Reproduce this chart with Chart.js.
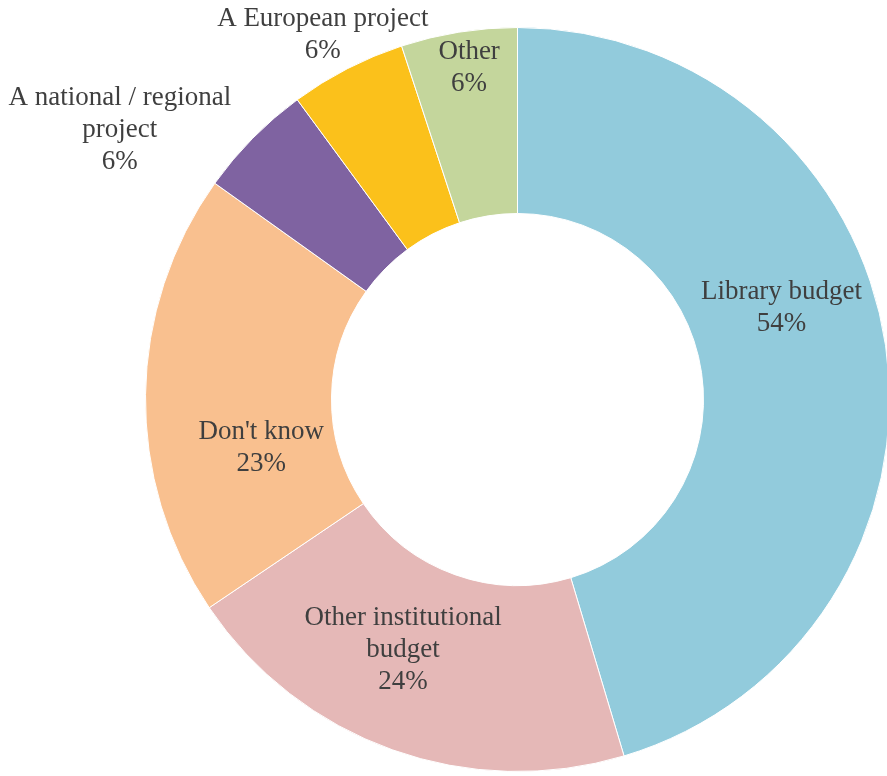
<!DOCTYPE html>
<html>
<head>
<meta charset="utf-8">
<script src="https://cdn.jsdelivr.net/npm/chart.js@4.4.1/dist/chart.umd.min.js"></script>
<style>
  html, body { margin: 0; padding: 0; background: #ffffff; overflow: hidden; }
  #wrap { position: relative; width: 900px; height: 776px; }
</style>
</head>
<body>
<div id="wrap"><canvas id="chart"></canvas></div>
<script>
  // Funding sources (multiple answers allowed, so shares add to more than 100)
  const categories = ['Library budget', 'Other institutional budget', "Don't know",
    'A national / regional project', 'A European project', 'Other'];
  const shares = [54, 24, 23, 6, 6, 6];
  const sliceColors = ['#92cbdc', '#e5b8b7', '#f9c08f', '#7f63a1', '#fbc11b', '#c4d69c'];

  // How each label is broken into lines
  const labelLines = [
    ['Library budget'],
    ['Other institutional', 'budget'],
    ["Don't know"],
    ['A national / regional', 'project'],
    ['A European project'],
    ['Other']
  ];

  // Where each label sits: angle clockwise from top (deg), distance as a fraction of the outer radius
  const labelPlacement = [
    { angle: 70.9, r: 0.751 },
    { angle: 204.6, r: 0.739 },
    { angle: 259.3, r: 0.701 },
    { angle: 304.1, r: 1.291 },
    { angle: 331.9, r: 1.111 },
    { angle: 351.7, r: 0.901 }
  ];

  const sliceLabels = {
    id: 'sliceLabels',
    afterDatasetsDraw(chart) {
      const ctx = chart.ctx;
      const arc = chart.getDatasetMeta(0).data[0];
      if (!arc) return;
      const cx = arc.x, cy = arc.y, R = arc.outerRadius;
      const lineHeight = 32;
      ctx.save();
      ctx.font = '27px "Liberation Serif", "Times New Roman", serif';
      ctx.fillStyle = '#3f3f3f';
      ctx.textAlign = 'center';
      ctx.textBaseline = 'middle';
      labelLines.forEach(function (lines, i) {
        const all = lines.concat([shares[i] + '%']);
        const p = labelPlacement[i];
        const a = p.angle * Math.PI / 180;
        const x = cx + Math.sin(a) * p.r * R;
        const y = cy - Math.cos(a) * p.r * R;
        const top = y - (all.length - 1) * lineHeight / 2;
        all.forEach(function (t, k) {
          ctx.fillText(t, x, top + k * lineHeight);
        });
      });
      ctx.restore();
    }
  };

  new Chart(document.getElementById('chart'), {
    type: 'doughnut',
    data: {
      labels: categories,
      datasets: [{
        data: shares,
        backgroundColor: sliceColors,
        borderColor: '#ffffff',
        borderWidth: 1,
        hoverOffset: 0
      }]
    },
    options: {
      responsive: true,
      maintainAspectRatio: false,
      animation: false,
      cutout: '50%',
      layout: {
        padding: { left: 145, top: 27, right: 10, bottom: 4 }
      },
      plugins: {
        legend: { display: false },
        tooltip: { enabled: false }
      }
    },
    plugins: [sliceLabels]
  });
</script>
</body>
</html>
